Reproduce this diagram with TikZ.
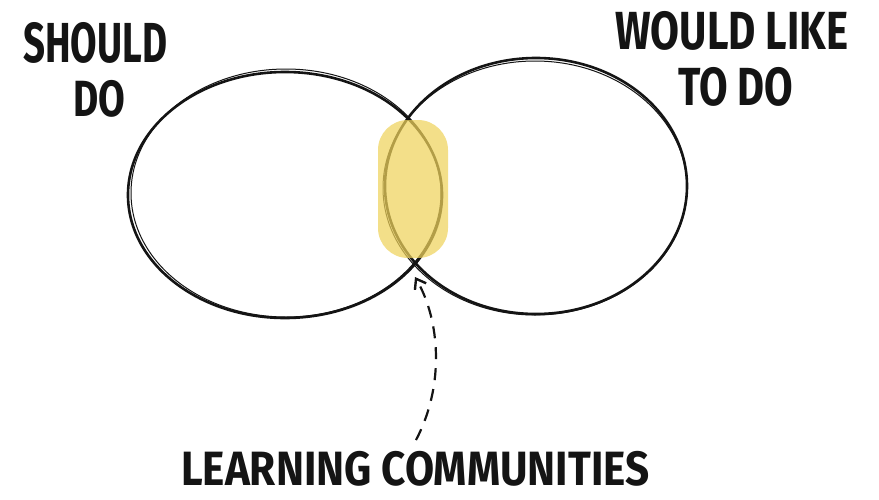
\documentclass[tikz,border=0pt]{standalone}
\usepackage{graphicx}
\usepackage{fontspec}
\setmainfont{Fira Sans}
\usetikzlibrary{shapes.geometric,arrows.meta}
\definecolor{ink}{RGB}{20,20,20}
\definecolor{hl}{RGB}{239,211,92}
\tikzset{
  ring/.style={ellipse, draw=ink, line width=2.6pt, inner sep=0pt},
  sketch/.style={draw=ink, line width=1pt},
  label/.style={anchor=north west, inner sep=0pt, text=ink},
  pointer/.style={draw=ink, line width=2.2pt, dash pattern=on 12pt off 9pt, -{Straight Barb[length=9pt,width=13pt,line width=2.4pt]}}
}
\newcommand{\handtext}[3]{\resizebox*{#1pt}{#2pt}{\bfseries #3}}
\begin{document}
\begin{tikzpicture}[x=1pt,y=-1pt]
\useasboundingbox (0,0) rectangle (879,499);
\fill[white] (0,0) rectangle (879,499);
% circles
\node[ring, minimum width=314pt, minimum height=246pt] (should) at (285,195) {};
\node[ring, minimum width=302pt, minimum height=256pt] (would) at (536,186) {};
\draw[sketch] (286,193) ellipse[x radius=155, y radius=124];
\draw[sketch] (535,188) ellipse[x radius=152, y radius=127];
% highlight
\node[fill=hl, fill opacity=0.72, rounded corners=30pt, minimum width=70pt, minimum height=138pt, inner sep=0pt] (overlap) at (413,189) {};
% labels
\node[label] (t1) at (23,22) {\handtext{144}{41}{SHOULD}};
\node[label] (t2) at (73,80) {\handtext{52}{37}{DO}};
\node[label] (t3) at (615,11) {\handtext{233}{39}{WOULD LIKE}};
\node[label] (t4) at (678,67) {\handtext{115}{39}{TO DO}};
\node[label] (t5) at (181,451) {\handtext{468}{35}{LEARNING COMMUNITIES}};
% arrow
\coordinate (tail) at (416,440);
\coordinate (tip) at (415,277);
\draw[pointer] (tail) .. controls (445,385) and (440,320) .. (tip);
\end{tikzpicture}
\end{document}
